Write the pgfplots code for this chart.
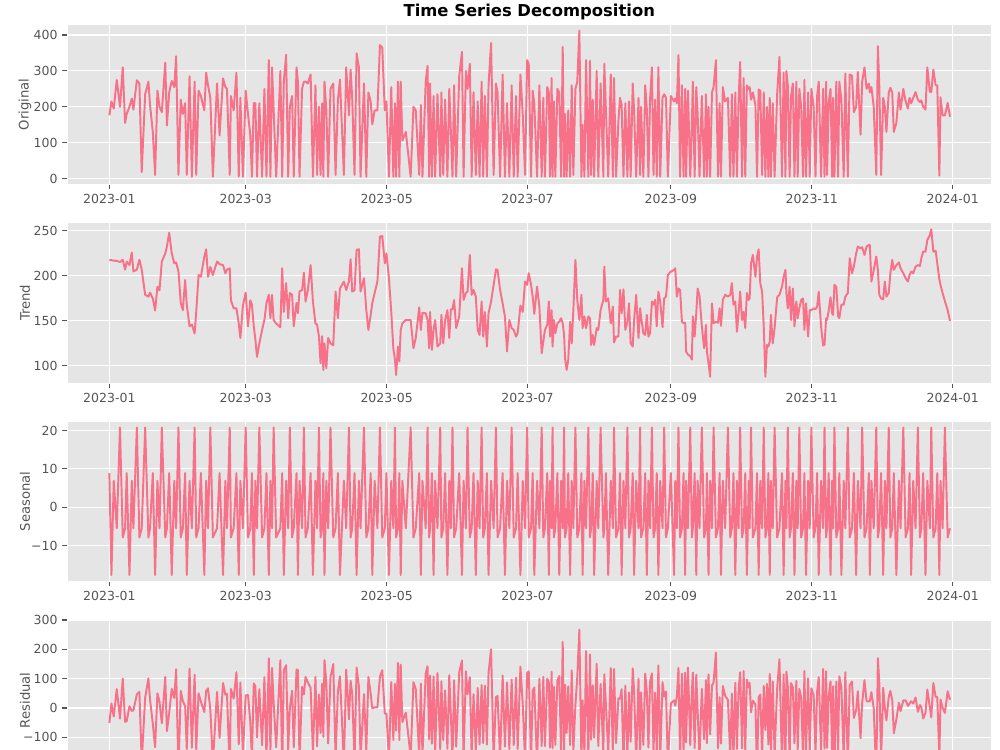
\documentclass[border=0pt]{standalone}
\usepackage{fontspec}
\setmainfont{DejaVu Sans}
\usepackage{pgfplots}
\usepackage{pgfplotstable}
\pgfplotsset{compat=1.18}
\definecolor{bgc}{HTML}{E5E5E5}
\definecolor{linec}{HTML}{F77189}
\definecolor{tickc}{HTML}{555555}

\pgfplotstableread{
day orig trend seas resid
0.0 176 217.8 8.9 -51
0.9 215 217.5 -17.7 15
1.9 195 217.0 6.9 -29
3.2 275 216.7 -5.5 64
4.6 200 215.5 20.8 -36
5.8 310 218.0 -7.9 100
6.8 155 207.0 -5.5 -47
7.5 180 216.0 8.9 -45
8.7 200 212.0 -17.7 6
9.7 223 226.0 6.9 -10
10.4 192 205.0 -5.5 -8
11.9 274 207.0 20.8 46
13.0 265 218.0 -7.9 55
14.0 18 207.0 -5.5 -184
15.5 235 179.0 20.8 35
16.9 270 177.0 -7.9 101
17.6 205 181.5 -5.5 29
18.8 130 175.0 8.9 -54
19.8 10 161.5 -17.7 -134
20.8 245 188.0 6.9 50
21.7 200 184.0 -5.5 22
22.7 185 216.0 20.8 -52
24.2 323 225.0 -7.9 106
24.9 148 232.6 -5.5 -79
25.9 240 248.0 8.9 -17
27.0 272 225.0 -17.7 65
28.1 255 214.0 6.9 34
28.9 341 215.0 -5.5 132
29.9 10 205.0 20.8 -216
30.9 220 170.0 -7.9 58
31.8 180 162.0 -5.5 24
32.8 210 195.5 8.9 6
33.5 10 168.0 -17.7 -140
34.7 285 144.0 6.9 134
35.7 5 146.0 -5.5 -136
36.9 270 136.0 20.8 113
37.6 10 160.0 -7.9 -142
38.6 245 201.0 -5.5 50
39.6 230 199.0 8.9 22
41.1 190 221.5 -17.7 -14
41.9 295 229.6 6.9 58
42.7 260 199.0 -5.5 67
43.7 225 210.0 20.8 -6
44.8 5 201.0 -7.9 -188
46.6 265 216.0 -5.5 55
47.7 120 213.0 8.9 -102
49.2 279 212.0 -17.7 85
50.2 255 203.0 6.9 45
50.9 250 207.0 -5.5 49
52.1 10 208.5 20.8 -219
52.6 230 173.0 -7.9 65
53.8 190 164.0 -5.5 32
55.0 295 164.0 8.9 122
56.0 5 147.0 -17.7 -124
56.7 225 131.0 6.9 87
57.8 5 167.0 -5.5 -157
59.0 245 181.5 20.8 43
60.0 180 144.0 -7.9 44
61.0 120 173.0 -5.5 -48
61.7 5 168.0 8.9 -172
62.5 210 144.0 -17.7 84
63.2 210 129.0 6.9 74
63.9 5 110.0 -5.5 -100
64.9 210 125.0 20.8 64
66.1 5 140.0 -7.9 -127
67.1 250 151.0 -5.5 105
68.0 5 170.0 8.9 -174
69.0 330 179.0 -17.7 169
69.7 5 153.0 6.9 -155
70.4 310 179.0 -5.5 137
71.1 190 151.0 20.8 18
72.2 5 147.0 -7.9 -134
74.0 300 143.0 -5.5 163
74.8 5 208.5 8.9 -212
75.5 270 160.0 -17.7 128
76.5 345 192.0 6.9 146
77.4 5 153.0 -5.5 -143
78.1 200 181.0 20.8 -2
79.1 230 179.0 -7.9 59
79.8 5 144.0 -5.5 -134
81.0 310 170.0 8.9 131
81.6 270 158.5 -17.7 129
82.3 5 183.0 6.9 -185
83.4 250 184.0 -5.5 72
84.2 270 203.7 20.8 46
84.9 270 171.5 -7.9 106
85.9 265 184.0 -5.5 87
87.1 290 212.0 8.9 69
88.1 5 171.5 -17.7 -149
89.2 260 147.0 6.9 106
89.9 10 146.0 -5.5 -131
90.7 200 133.0 20.8 46
91.4 10 103.0 -7.9 -85
92.1 210 133.0 -5.5 83
92.6 5 95.5 8.9 -99
93.1 270 125.0 -17.7 163
93.9 190 97.4 6.9 86
94.7 5 131.0 -5.5 -121
95.7 250 125.0 20.8 104
96.9 265 123.0 -7.9 150
97.9 10 182.6 -5.5 -167
98.9 218 153.0 8.9 56
99.8 276 186.0 -17.7 108
101.5 10 193.7 6.9 -191
102.5 310 184.4 -5.5 131
103.7 176 194.0 20.8 -39
104.4 304 218.5 -7.9 93
105.1 225 182.6 -5.5 48
106.1 10 184.0 8.9 -183
107.0 349 229.0 -17.7 138
108.0 310 229.6 6.9 73
108.7 5 182.6 -5.5 -172
110.2 265 197.4 20.8 47
111.2 5 162.0 -7.9 -149
112.1 240 140.0 -5.5 106
113.1 215 156.7 8.9 49
113.8 151 170.0 -17.7 -1
114.8 190 181.0 6.9 2
116.0 190 193.7 -5.5 2
117.1 372 243.7 20.8 107
118.1 365 244.4 -7.9 129
119.2 190 214.0 -5.5 -19
119.9 215 225.0 8.9 -19
121.0 5 197.4 -17.7 -175
122.0 255 160.0 6.9 88
122.9 5 119.6 -5.5 -109
123.6 210 106.7 20.8 82
124.1 5 90.0 -7.9 -77
124.9 270 121.5 -5.5 154
125.5 5 105.0 8.9 -109
126.1 270 140.0 -17.7 148
126.8 106 147.4 6.9 -48
128.3 130 151.0 -5.5 -16
130.4 5 151.0 20.8 -167
131.6 200 119.6 -7.9 88
132.6 190 131.0 -5.5 65
134.1 10 165.0 8.9 -164
134.8 205 140.0 -17.7 83
135.5 5 159.0 6.9 -161
136.9 270 158.5 -5.5 117
137.7 314 151.0 20.8 142
138.4 5 119.6 -7.9 -107
138.8 265 160.0 -5.5 111
139.6 5 117.8 8.9 -122
140.3 230 140.0 -17.7 108
141.0 5 151.0 6.9 -153
142.0 235 121.5 -5.5 119
143.2 5 125.0 20.8 -141
143.7 240 156.7 -7.9 91
144.5 10 125.0 -5.5 -110
145.3 220 151.0 8.9 60
146.3 5 162.0 -17.7 -139
147.1 250 131.0 6.9 112
147.8 130 163.0 -5.5 -28
148.5 5 163.0 20.8 -179
149.2 260 173.3 -7.9 95
150.1 5 142.0 -5.5 -132
151.4 285 155.0 8.9 121
152.6 353 208.5 -17.7 162
153.3 5 173.3 6.9 -175
154.3 300 181.0 -5.5 125
155.0 250 182.6 20.8 47
156.0 320 223.3 -7.9 105
156.8 5 179.0 -5.5 -169
157.6 240 184.4 8.9 47
158.6 10 177.0 -17.7 -149
159.4 215 140.0 6.9 68
160.2 5 134.4 -5.5 -124
161.1 270 171.5 20.8 78
161.8 5 132.6 -7.9 -120
162.5 230 160.0 -5.5 76
163.4 5 121.5 8.9 -125
164.1 260 158.5 -17.7 119
165.2 378 171.5 6.9 200
166.3 10 190.0 -5.5 -175
167.3 265 207.4 20.8 37
168.0 240 206.7 -7.9 41
169.1 5 184.4 -5.5 -174
170.2 290 169.6 8.9 111
171.2 5 154.8 -17.7 -132
172.1 210 116.0 6.9 87
173.1 5 151.0 -5.5 -141
174.1 260 142.0 20.8 97
175.0 5 140.0 -7.9 -127
176.0 230 132.6 -5.5 103
176.7 5 136.3 8.9 -140
177.9 290 167.0 -17.7 141
178.9 180 160.0 6.9 13
179.9 10 193.7 -5.5 -178
180.8 330 190.0 20.8 119
181.5 320 203.0 -7.9 125
182.5 5 190.0 -5.5 -180
183.2 245 177.0 8.9 59
183.9 210 157.8 -17.7 70
185.1 5 188.0 6.9 -190
186.1 260 166.0 -5.5 100
187.1 5 114.0 20.8 -130
187.8 225 127.0 -7.9 106
188.5 5 140.0 -5.5 -130
189.5 255 145.6 8.9 100
190.2 240 171.5 -17.7 86
190.7 5 132.6 6.9 -135
191.4 280 162.0 -5.5 124
191.8 5 121.5 20.8 -137
192.4 215 151.0 -7.9 72
193.0 5 136.3 -5.5 -126
193.9 250 147.4 8.9 94
194.7 240 149.0 -17.7 109
195.5 5 153.0 6.9 -155
196.2 367 147.4 -5.5 225
196.8 5 134.4 20.8 -150
197.2 180 108.5 -7.9 79
197.9 5 95.5 -5.5 -85
198.6 190 106.7 8.9 74
199.4 5 149.0 -17.7 -126
200.1 260 125.0 6.9 128
200.8 10 162.0 -5.5 -147
201.7 250 217.8 20.8 11
202.5 270 173.3 -7.9 105
203.4 412 151.0 -5.5 267
204.3 5 179.0 8.9 -183
204.8 150 142.0 -17.7 26
205.6 5 155.0 6.9 -157
206.3 330 142.0 -5.5 194
207.3 5 155.0 20.8 -171
208.0 328 153.0 -7.9 183
208.5 10 123.3 -5.5 -108
209.2 220 134.4 8.9 77
209.8 5 123.3 -17.7 -101
210.9 300 142.0 6.9 151
211.6 5 140.0 -5.5 -130
212.6 265 162.0 20.8 82
213.8 5 173.3 -7.9 -160
214.2 320 210.4 -5.5 115
214.9 190 171.5 8.9 10
215.9 5 175.0 -17.7 -152
217.0 290 147.4 6.9 136
217.9 5 166.0 -5.5 -155
218.4 280 126.0 20.8 133
219.3 5 132.6 -7.9 -120
220.3 160 132.6 -5.5 33
221.0 225 184.4 8.9 32
221.7 205 158.5 -17.7 64
222.5 5 185.0 6.9 -187
223.3 210 140.0 -5.5 76
224.2 5 149.0 20.8 -165
224.9 215 169.6 -7.9 53
225.6 5 125.0 -5.5 -115
226.5 265 121.5 8.9 135
227.1 190 151.0 -17.7 57
228.0 5 179.0 6.9 -181
229.0 225 131.0 -5.5 100
229.7 10 164.0 20.8 -175
230.1 200 155.0 -7.9 53
231.1 5 136.3 -5.5 -126
231.9 260 134.4 8.9 117
232.6 195 156.7 -17.7 56
233.3 5 132.6 6.9 -135
234.0 220 136.3 -5.5 89
234.8 310 171.5 20.8 118
235.5 10 168.0 -7.9 -150
236.2 220 173.3 -5.5 52
236.9 5 144.0 8.9 -148
237.6 310 182.6 -17.7 145
238.4 5 171.5 6.9 -173
239.4 225 143.0 -5.5 88
240.1 235 175.0 20.8 39
240.9 225 177.0 -7.9 56
241.7 5 201.0 -5.5 -190
243.0 230 204.8 8.9 16
244.4 215 206.7 -17.7 26
244.9 223 208.5 6.9 8
245.6 210 177.0 -5.5 39
246.3 344 186.0 20.8 137
247.0 5 184.4 -7.9 -172
247.8 260 149.0 -5.5 117
248.5 5 147.4 8.9 -151
249.2 250 148.0 -17.7 120
249.6 5 116.0 6.9 -118
250.4 245 112.6 -5.5 138
251.4 5 110.7 20.8 -127
252.1 150 107.0 -7.9 51
252.5 270 155.0 -5.5 121
253.3 5 132.6 8.9 -137
254.0 255 158.5 -17.7 114
254.6 180 186.0 6.9 -13
255.4 5 177.8 -5.5 -167
256.4 230 144.4 20.8 65
257.4 5 119.6 -7.9 -107
258.2 235 145.6 -5.5 95
258.6 5 116.0 8.9 -120
259.3 200 103.0 -17.7 115
260.0 5 88.0 6.9 -90
260.8 240 169.6 -5.5 76
261.5 255 147.4 20.8 87
262.5 330 149.0 -7.9 189
263.4 5 148.0 -5.5 -138
264.1 210 164.0 8.9 37
264.7 5 144.4 -17.7 -122
265.5 255 173.3 6.9 75
266.5 215 179.0 -5.5 42
267.7 225 177.0 20.8 27
268.7 5 179.0 -7.9 -166
269.4 235 192.0 -5.5 49
270.1 5 168.0 8.9 -172
270.9 240 171.5 -17.7 86
271.6 5 138.0 6.9 -140
272.3 215 158.5 -5.5 62
273.0 325 182.6 20.8 122
273.8 5 151.0 -7.9 -138
274.5 280 160.0 -5.5 126
275.2 5 142.0 8.9 -146
275.9 260 181.0 -17.7 97
276.7 250 173.3 6.9 70
277.1 255 175.0 -5.5 86
277.7 220 214.0 20.8 -15
278.5 240 223.3 -7.9 25
279.6 205 199.0 -5.5 12
280.3 5 221.5 8.9 -225
281.0 248 229.6 -17.7 36
281.7 245 192.0 6.9 46
282.5 10 182.6 -5.5 -167
283.2 240 144.0 20.8 75
283.9 5 88.0 -7.9 -75
284.6 200 123.3 -5.5 82
285.2 5 121.5 8.9 -125
285.8 225 127.0 -17.7 116
286.3 5 156.7 6.9 -159
287.1 210 125.0 -5.5 91
287.9 5 142.0 20.8 -158
289.0 235 176.3 -7.9 67
290.0 339 179.0 -5.5 166
291.1 5 188.0 8.9 -192
291.8 295 199.0 -17.7 114
292.6 5 206.7 6.9 -209
293.0 300 181.5 -5.5 124
293.6 260 164.0 20.8 75
294.4 5 188.0 -7.9 -175
295.0 230 151.0 -5.5 85
295.8 265 186.0 8.9 70
296.5 5 144.0 -17.7 -121
297.3 270 171.5 6.9 92
297.9 5 153.0 -5.5 -143
298.6 250 164.0 20.8 65
299.4 200 173.3 -7.9 35
300.2 5 175.0 -5.5 -165
300.8 275 140.0 8.9 126
301.5 5 169.6 -17.7 -147
302.4 240 132.6 6.9 101
303.1 5 162.0 -5.5 -152
303.8 250 162.0 20.8 67
304.8 200 164.0 -7.9 44
305.6 5 163.0 -5.5 -153
306.3 230 166.0 8.9 55
307.0 270 182.6 -17.7 105
308.0 5 144.0 6.9 -146
308.9 250 122.7 -5.5 133
309.5 5 123.3 20.8 -139
310.2 270 153.0 -7.9 125
310.6 10 151.0 -5.5 -136
311.3 210 161.5 8.9 40
312.1 250 176.3 -17.7 91
312.8 5 158.5 6.9 -160
313.2 225 156.7 -5.5 74
313.8 5 190.0 20.8 -206
314.6 270 188.0 -7.9 90
315.4 5 155.0 -5.5 -145
315.9 270 153.0 8.9 108
316.8 220 168.0 -17.7 70
317.8 5 168.0 6.9 -170
318.5 293 177.0 -5.5 122
319.6 5 181.0 20.8 -197
320.4 290 219.6 -7.9 78
321.4 287 203.0 -5.5 90
322.2 185 210.4 8.9 -34
323.2 200 225.0 -17.7 -7
323.9 297 232.6 6.9 57
325.1 122 230.7 -5.5 -103
325.8 270 231.8 20.8 17
326.8 310 223.3 -7.9 95
327.7 250 232.6 -5.5 23
328.7 265 234.4 8.9 22
329.1 240 234.4 -17.7 23
329.8 255 193.7 6.9 54
330.8 200 206.7 -5.5 -1
331.9 10 221.5 20.8 -232
332.6 369 206.7 -7.9 170
333.2 260 179.0 -5.5 87
334.0 10 175.0 8.9 -174
334.9 225 174.0 -17.7 69
335.6 200 193.7 6.9 -1
336.3 130 177.0 -5.5 -42
337.3 240 181.0 20.8 38
338.0 253 203.0 -7.9 58
338.8 240 217.8 -5.5 28
339.5 130 206.7 8.9 -86
340.6 155 212.0 -17.7 -39
341.7 240 215.0 6.9 18
342.4 192 208.5 -5.5 -11
343.6 250 203.0 20.8 26
344.6 215 197.4 -7.9 26
345.6 195 193.7 -5.5 7
346.3 225 201.0 8.9 15
347.0 210 204.8 -17.7 23
347.9 225 203.0 6.9 15
348.9 241 210.4 -5.5 36
349.9 220 212.0 20.8 -13
350.8 213 211.0 -7.9 10
351.4 218 219.6 -5.5 4
352.2 200 227.0 8.9 -36
353.2 192 227.0 -17.7 -17
354.0 310 240.0 6.9 63
355.1 241 245.5 -5.5 1
355.7 241 251.8 20.8 -32
356.6 304 227.0 -7.9 85
357.6 260 228.0 -5.5 38
358.3 260 214.0 8.9 37
359.2 8 196.0 -17.7 -170
359.7 226 190.0 6.9 29
360.6 176 181.0 -5.5 1
361.6 176 172.0 20.8 -17
362.8 211 162.0 -7.9 57
363.8 172 150.0 -5.5 28
}\decomp

\pgfplotsset{
  panel/.style={
    scale only axis, width=665.3pt, height=115.6pt,
    xmin=-18.2, xmax=381.7,
    anchor=north west,
    axis background/.style={fill=bgc},
    axis line style={white, line width=0.8pt},
    grid=major, major grid style={white, line width=0.8pt},
    xtick={0,59,120,181,243,304,365},
    xticklabels={2023-01,2023-03,2023-05,2023-07,2023-09,2023-11,2024-01},
    tick align=outside, tick pos=left,
    major tick length=3.5pt,
    tick style={tickc, line width=0.8pt},
    tick label style={font=\fontsize{9}{11}\selectfont, text=tickc},
    every axis y label/.style={at={(axis description cs:-0.0458,0.5)}, rotate=90, anchor=center, font=\fontsize{9.5}{11}\selectfont, text=tickc},
    clip=true,
  },
  ser/.style={linec, line width=1.4pt, line join=round},
}

\begin{document}
\begin{tikzpicture}
\begin{axis}[panel, at={(48.46pt,-17.28pt)}, ymin=-16.8, ymax=430.8,
  ytick={0,100,200,300,400}, yticklabels={0,100,200,300,400}, ylabel={Original}]
\addplot[ser] table[x=day, y=orig]{\decomp};
\end{axis}
\begin{axis}[panel, at={(48.46pt,-160.3pt)}, ymin=80.8, ymax=259.2,
  ytick={100,150,200,250}, yticklabels={100,150,200,250}, ylabel={Trend}]
\addplot[ser] table[x=day, y=trend]{\decomp};
\end{axis}
\begin{axis}[panel, at={(48.46pt,-303.1pt)}, ymin=-19.4, ymax=22.5,
  ytick={-10,0,10,20}, yticklabels={−10,0,10,20}, ylabel={Seasonal}]
\addplot[ser] table[x=day, y=seas]{\decomp};
\end{axis}
\begin{axis}[panel, at={(48.46pt,-446.4pt)}, ymin=-247.5, ymax=300,
  ytick={-100,0,100,200,300}, yticklabels={−100,0,100,200,300},
  xticklabels={}, ylabel={Residual}]
\addplot[ser] table[x=day, y=resid]{\decomp};
\end{axis}
\node[font=\bfseries\fontsize{11.8}{14}\selectfont, anchor=base] at (381.1pt,-12pt) {Time Series Decomposition};
\pgfresetboundingbox
\path[use as bounding box] (0,0) rectangle (720pt,-540pt);
\end{tikzpicture}
\end{document}
